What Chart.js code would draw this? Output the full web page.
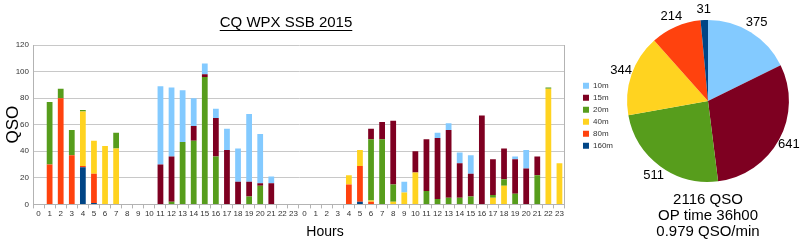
<!DOCTYPE html>
<html>
<head>
<meta charset="utf-8">
<script src="https://cdn.jsdelivr.net/npm/chart.js@4.4.1/dist/chart.umd.min.js"></script>
<style>
  body { margin: 0; background: #fff; width: 800px; height: 246px; overflow: hidden; position: relative; }
  canvas { position: absolute; top: 0; }
  #bars { left: 0; }
  #pie { left: 595px; }
</style>
</head>
<body>
<canvas id="bars" width="629" height="246"></canvas>
<canvas id="pie" width="205" height="246"></canvas>
<script>
// hours of the contest, two days
const hours = ["0","1","2","3","4","5","6","7","8","9","10","11","12","13","14","15","16","17","18","19","20","21","22","23",
               "0","1","2","3","4","5","6","7","8","9","10","11","12","13","14","15","16","17","18","19","20","21","22","23"];

// QSO per hour and band (day 1 then day 2)
const band10 = [0,0,0,0,0,0,0,0,0,0,0,59,52,39,21,8,7,16,25,51,37,5,0,0,
                0,0,0,0,0,0,0,0,0,8,0,0,4,5,8,14,0,0,0,2,14,0,0,0];
const band15 = [0,0,0,0,0,0,0,0,0,0,0,30,34,0,11,2,29,41,17,11,2,16,0,0,
                0,0,0,0,0,0,8,13,48,0,16,39,46,51,26,17,67,27,23,26,27,14,0,0];
const band20 = [0,47,7,19,1,0,0,12,0,0,0,0,2,47,48,96,36,0,0,6,14,0,0,0,
                0,0,0,0,0,0,46,49,13,0,0,10,4,5,5,6,0,2,5,8,0,22,1,0];
const band40 = [0,0,0,0,41,25,44,42,0,0,0,0,0,0,0,0,0,0,0,0,0,0,0,0,
                0,0,0,0,7,12,1,0,2,9,24,0,0,0,0,0,0,5,14,0,0,0,87,31];
const band80 = [0,30,80,37,1,22,0,0,0,0,0,0,0,0,0,0,0,0,0,0,0,0,0,0,
                0,0,0,0,15,27,2,0,0,0,0,0,0,0,0,0,0,0,0,0,0,0,0,0];
const band160 = [0,0,0,0,28,1,0,0,0,0,0,0,0,0,0,0,0,0,0,0,0,0,0,0,
                 0,0,0,0,0,2,0,0,0,0,0,0,0,0,0,0,0,0,0,0,0,0,0,0];

// totals per band for the pie
const bandNames = ["10m", "15m", "20m", "40m", "80m", "160m"];
const bandTotals = [375, 641, 511, 344, 214, 31];
const summary = ["2116 QSO", "OP time 36h00", "0.979 QSO/min"];

const colors = {
  "10m": "#83caff",
  "15m": "#7e0021",
  "20m": "#579d1c",
  "40m": "#ffd320",
  "80m": "#ff420e",
  "160m": "#004586"
};

Chart.defaults.font.family = "'Liberation Sans', Arial, sans-serif";
Chart.defaults.color = "#333";

// underlined title and the x axis name, drawn over the bar chart
const titlePlugin = {
  id: "underTitle",
  afterDraw(chart) {
    const ctx = chart.ctx;
    const text = "CQ WPX SSB 2015";
    ctx.save();
    ctx.font = "15px 'Liberation Sans', Arial, sans-serif";
    ctx.fillStyle = "#000";
    ctx.textAlign = "center";
    ctx.textBaseline = "middle";
    ctx.fillText(text, 286, 23);
    const w = ctx.measureText(text).width;
    ctx.fillRect(286 - w / 2, 30, w, 1);
    ctx.font = "14px 'Liberation Sans', Arial, sans-serif";
    ctx.fillText("Hours", 325, 232);
    ctx.restore();
  }
};

// move the legend up a bit
const legendShift = {
  id: "legendShift",
  afterLayout(chart) {
    chart.legend.top -= 9;
    chart.legend.bottom -= 9;
  }
};

const bandSeries = [
  ["160m", band160],
  ["80m", band80],
  ["40m", band40],
  ["20m", band20],
  ["15m", band15],
  ["10m", band10]
];

new Chart(document.getElementById("bars"), {
  type: "bar",
  data: {
    labels: hours,
    datasets: bandSeries.map(([name, values]) => ({
      label: name,
      data: values,
      backgroundColor: colors[name],
      borderWidth: 0,
      categoryPercentage: 1,
      barPercentage: 0.52
    }))
  },
  options: {
    responsive: false,
    animation: false,
    layout: { padding: { top: 45, right: 6, bottom: 26, left: 0 } },
    scales: {
      x: {
        stacked: true,
        grid: { drawOnChartArea: false, tickLength: 4, color: "#b3b3b3" },
        border: { color: "#b3b3b3" },
        ticks: { font: { size: 8 }, padding: 1, autoSkip: false, maxRotation: 0 }
      },
      y: {
        stacked: true,
        min: 0,
        max: 120,
        ticks: { stepSize: 20, font: { size: 8 }, padding: 4 },
        grid: { color: "#c8c8c8", drawTicks: false },
        border: { color: "#b3b3b3" },
        title: { display: true, text: "QSO", color: "#000", font: { size: 17 }, padding: { top: 3, bottom: 0 } },
        afterFit: (scale) => { scale.width = 33; }
      },
      y2: {
        position: "right",
        grid: { display: false },
        ticks: { display: false },
        border: { color: "#b3b3b3" },
        afterFit: (scale) => { scale.width = 14; }
      }
    },
    plugins: {
      legend: {
        position: "right",
        reverse: true,
        fullSize: false,
        labels: { boxWidth: 6, boxHeight: 6, font: { size: 8 }, padding: 4, color: "#333" }
      },
      tooltip: { enabled: false }
    }
  },
  plugins: [titlePlugin, legendShift]
});

// value labels outside the pie slices
const pieLabels = {
  id: "pieLabels",
  afterDatasetsDraw(chart) {
    const ctx = chart.ctx;
    const meta = chart.getDatasetMeta(0);
    ctx.save();
    ctx.font = "13px 'Liberation Sans', Arial, sans-serif";
    ctx.fillStyle = "#000";
    ctx.textAlign = "center";
    ctx.textBaseline = "middle";
    meta.data.forEach((arc, i) => {
      const p = arc.getProps(["x", "y", "startAngle", "endAngle", "outerRadius"], true);
      const mid = (p.startAngle + p.endAngle) / 2;
      const r = p.outerRadius + 11;
      ctx.fillText(String(bandTotals[i]), p.x + Math.cos(mid) * r, p.y + Math.sin(mid) * r);
    });
    ctx.restore();
  }
};

new Chart(document.getElementById("pie"), {
  type: "pie",
  data: {
    labels: bandNames,
    datasets: [{
      data: bandTotals,
      backgroundColor: bandNames.map((n) => colors[n]),
      borderWidth: 0
    }]
  },
  options: {
    responsive: false,
    animation: false,
    layout: { padding: { top: 20, left: 32, right: 11, bottom: 6 } },
    plugins: {
      legend: { display: false },
      tooltip: { enabled: false },
      title: {
        display: true,
        position: "bottom",
        text: summary,
        color: "#000",
        font: { size: 15, weight: "normal", lineHeight: 1.07 },
        padding: { top: 10, bottom: 0 }
      }
    }
  },
  plugins: [pieLabels]
});
</script>
</body>
</html>
